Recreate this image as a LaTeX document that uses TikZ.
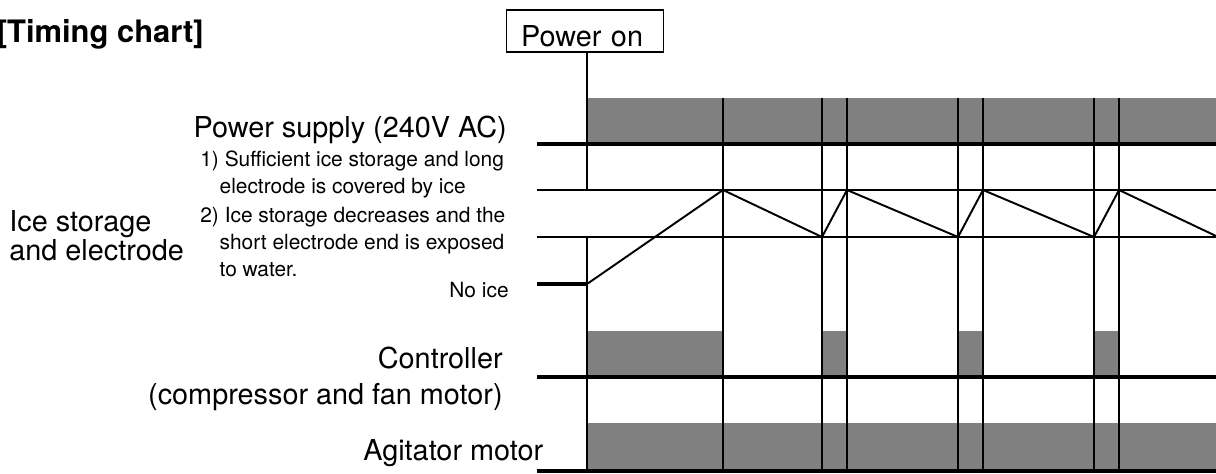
\documentclass[tikz,border=0pt]{standalone}
\usepackage{fontspec}
\setmainfont{TeX Gyre Heros}
\usepackage{xcolor}
\usetikzlibrary{positioning}
\definecolor{bargray}{HTML}{808080}
\definecolor{linegray}{HTML}{000000}

\begin{document}
\begin{tikzpicture}[
  x=0.02cm, y=-0.02cm,
  rowlabel/.style={inner sep=0pt, font=\fontsize{16.4}{20}\selectfont},
  notetext/.style={inner sep=0pt, align=left, font=\fontsize{11.9}{15.2}\selectfont},
  bar/.style={fill=bargray, draw=none},
  axis/.style={draw=linegray, line width=1.9pt},
  level/.style={draw=linegray, line width=0.75pt},
  edge/.style={draw=linegray, line width=0.85pt},
  ramp/.style={draw=linegray, line width=1.1pt, line join=miter}
]
  \useasboundingbox (0,0) rectangle (1216,473);

  % headings
  \node[inner sep=0pt, anchor=base east, font=\fontsize{17.6}{20}\selectfont\bfseries] (title) at (204,43) {[Timing chart]};
  \node[draw, line width=0.6pt, anchor=base west, inner xsep=0.29cm, inner ysep=0pt,
        text width=2.56cm, text height=0.74cm, text depth=0.1cm,
        font=\fontsize{16.4}{20}\selectfont] (pon) at (506,47) {Power on};

  % row names (multi-line nodes sit on their last line)
  \node[rowlabel, anchor=base east] (psup) at (507,137) {Power supply (240V AC)};
  \node[rowlabel, anchor=base west, align=left, font=\fontsize{16.4}{16.5}\selectfont] (ice) at (9,260) {Ice storage\\and electrode};
  \node[notetext, anchor=base west] (n1) at (200,193.3) {1) Sufficient ice storage and long\\\hspace*{0.386cm}electrode is covered by ice};
  \node[notetext, anchor=base west] (n2) at (200,276) {2) Ice storage decreases and the\\\hspace*{0.386cm}short electrode end is exposed\\\hspace*{0.386cm}to water.};
  \node[notetext, anchor=base east] (noice) at (509,297) {No ice};
  \node[rowlabel, anchor=base east, align=right, font=\fontsize{16.4}{20.4}\selectfont] (ctrl) at (503,404) {Controller\\(compressor and fan motor)};
  \node[rowlabel, anchor=base west] (agit) at (363,460) {Agitator motor};

  % on periods
  \fill[bar] (587,98) rectangle (1216,144);
  \fill[bar] (587,331) rectangle (723,377);
  \fill[bar] (822,331) rectangle (847,377);
  \fill[bar] (958,331) rectangle (983,377);
  \fill[bar] (1094,331) rectangle (1119,377);
  \fill[bar] (587,423) rectangle (1216,471);

  % base lines and levels
  \draw[axis] (537,144) -- (1216,144);
  \draw[level] (537,190) -- (1216,190);
  \draw[level] (537,237) -- (1216,237);
  \draw[axis] (537,284) -- (587,284);
  \draw[axis] (537,377) -- (1216,377);
  \draw[axis] (537,471) -- (1216,471);

  % switching instants
  \coordinate (t0) at (587,190);
  \draw[edge] (pon.south -| t0) -- (t0);
  \draw[edge] (587,237) -- (587,471);
  \draw[edge] (723,98) -- (723,471);
  \draw[edge] (822,98) -- (822,471);
  \draw[edge] (847,98) -- (847,471);
  \draw[edge] (958,98) -- (958,471);
  \draw[edge] (983,98) -- (983,471);
  \draw[edge] (1094,98) -- (1094,471);
  \draw[edge] (1119,98) -- (1119,471);

  % ice level
  \draw[ramp] (587,284) -- (723,190) -- (822,237) -- (847,190) -- (958,237)
    -- (983,190) -- (1094,237) -- (1119,190) -- (1216,236);
\end{tikzpicture}
\end{document}
